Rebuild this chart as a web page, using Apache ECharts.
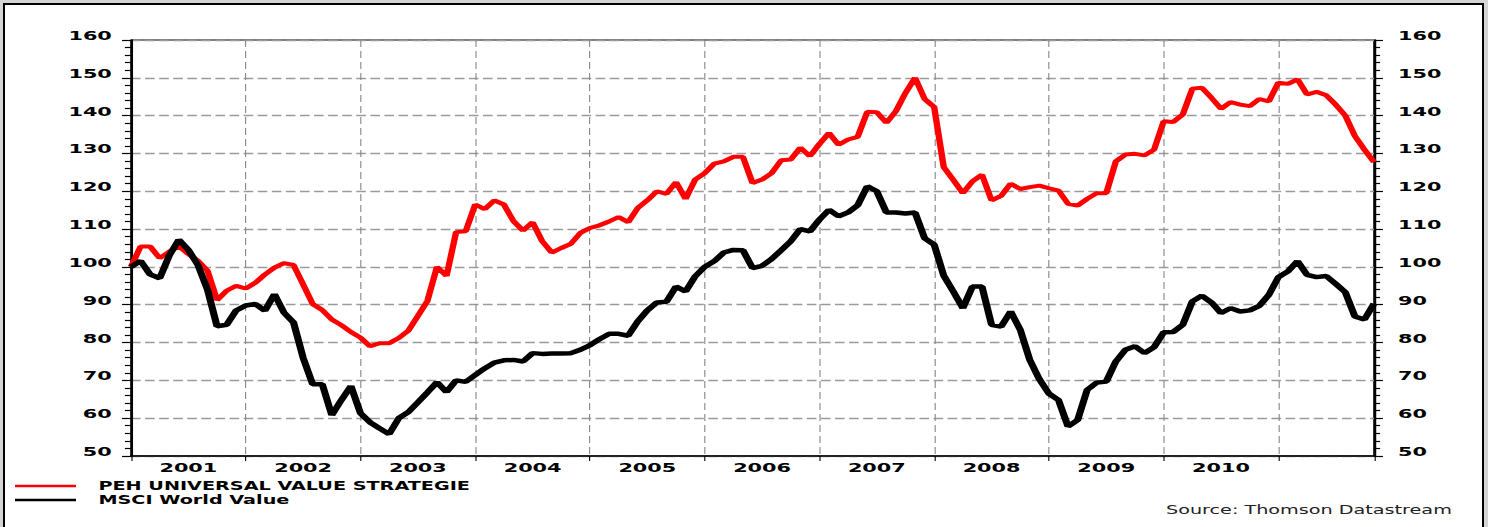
<!DOCTYPE html>
<html>
<head>
<meta charset="utf-8">
<script src="https://cdn.jsdelivr.net/npm/echarts@6/dist/echarts.min.js"></script>
<style>
  html, body { margin: 0; padding: 0; background: #d4d4d4; width: 1488px; height: 527px; overflow: hidden; }
  #frame { position: absolute; left: 3px; top: 3px; width: 1477px; height: 530px; border: 2px solid #000; border-bottom: none; background: #fff; }
  /* the original picture is stretched sideways, so the chart is drawn narrow and scaled */
  #main { position: absolute; left: 0; top: 0; width: 930px; height: 527px; transform: scaleX(1.6); transform-origin: 0 0; }
</style>
</head>
<body>
<div id="frame"></div>
<div id="main"></div>
<script>
// monthly, Jan 2001 - Nov 2011
var years = [2001, 2002, 2003, 2004, 2005, 2006, 2007, 2008, 2009, 2010, 2011];
var lastMonth2011 = 11;

var peh = [
  100.0, 105.4, 105.4, 102.3, 104.0, 105.5, 103.4, 101.6, 99.0, 91.2, 93.7, 95.0,   // 2001
  94.3, 95.8, 98.0, 99.8, 101.0, 100.5, 95.4, 90.2, 88.6, 86.1, 84.6, 82.8,         // 2002
  81.3, 79.0, 79.8, 79.8, 81.2, 83.1, 87.0, 91.0, 100.0, 97.6, 109.2, 109.4,        // 2003
  116.5, 115.3, 117.6, 116.5, 112.1, 109.6, 111.8, 106.8, 103.8, 105.0, 106.1, 109.0, // 2004
  110.3, 111.0, 112.0, 113.2, 111.8, 115.6, 117.6, 120.0, 119.3, 122.4, 118.0, 123.1, // 2005
  124.8, 127.3, 127.9, 129.1, 129.1, 122.2, 123.1, 124.8, 128.2, 128.4, 131.5, 129.3, // 2006
  132.5, 135.4, 132.3, 133.7, 134.4, 141.0, 140.9, 138.1, 141.2, 146.0, 150.0, 144.4, // 2007
  142.3, 126.4, 123.0, 119.5, 122.6, 124.4, 117.6, 118.8, 122.0, 120.6, 121.1, 121.5, // 2008
  120.8, 120.2, 116.7, 116.2, 118.0, 119.5, 119.5, 127.9, 129.7, 129.9, 129.5, 131.0, // 2009
  138.5, 138.3, 140.3, 147.1, 147.4, 144.7, 141.8, 143.6, 142.9, 142.5, 144.4, 143.8, // 2010
  148.7, 148.4, 149.6, 145.6, 146.3, 145.4, 142.9, 140.0, 134.6, 131.0, 127.7         // 2011
];

var msci = [
  100.0, 101.6, 98.0, 97.0, 103.0, 107.2, 104.5, 100.5, 94.0, 84.3, 84.7, 88.5,     // 2001
  89.8, 90.2, 88.4, 92.8, 87.9, 85.3, 76.0, 69.0, 69.0, 60.8, 64.8, 68.5,           // 2002
  61.3, 58.9, 57.3, 55.8, 60.0, 61.6, 64.2, 66.8, 69.5, 66.9, 70.0, 69.6,           // 2003
  71.4, 73.2, 74.7, 75.3, 75.4, 75.0, 77.2, 77.0, 77.1, 77.1, 77.2, 78.1,           // 2004
  79.3, 80.9, 82.3, 82.3, 81.8, 85.6, 88.5, 90.6, 90.8, 94.8, 93.5, 97.5,           // 2005
  100.0, 101.5, 103.8, 104.5, 104.4, 99.7, 100.3, 102.1, 104.4, 106.8, 110.0, 109.4, // 2006
  112.5, 115.1, 113.4, 114.4, 116.3, 121.3, 120.0, 114.4, 114.4, 114.1, 114.4, 107.6, // 2007
  105.9, 97.7, 93.5, 89.1, 94.8, 94.8, 84.7, 84.2, 88.2, 83.4, 75.4, 70.3,          // 2008
  66.5, 64.8, 57.8, 59.5, 67.5, 69.4, 69.7, 75.0, 78.1, 79.0, 77.2, 78.8,           // 2009
  82.7, 82.8, 84.7, 90.9, 92.4, 90.6, 87.8, 89.1, 88.2, 88.5, 89.7, 92.6,           // 2010
  97.3, 98.8, 101.5, 97.9, 97.3, 97.6, 95.5, 93.3, 86.9, 86.1, 90.3                 // 2011
];

var seriesNames = ['PEH UNIVERSAL VALUE STRATEGIE', 'MSCI World Value'];
var yTicks = { min: 50, max: 160, step: 10 };

// month categories
var months = [];
for (var y = 0; y < years.length; y++) {
  var n = years[y] === 2011 ? lastMonth2011 : 12;
  for (var m = 1; m <= n; m++) {
    months.push(years[y] + '-' + (m < 10 ? '0' + m : m));
  }
}

var S = 1.6; // horizontal stretch
var labelFont = { fontFamily: 'DejaVu Sans', fontWeight: 'bold', fontSize: 13, color: '#000' };

function yAxisOpt(pos) {
  return {
    type: 'value',
    position: pos,
    min: yTicks.min,
    max: yTicks.max,
    interval: yTicks.step,
    axisLine: { show: true, lineStyle: { color: '#000', width: 1.3 } },
    axisTick: { show: true, length: 5.6, lineStyle: { color: '#000', width: 1.2 } },
    minorTick: { show: true, splitNumber: 5, length: 3.8, lineStyle: { color: '#000', width: 1.2 } },
    axisLabel: Object.assign({ margin: pos === 'left' ? 12 : 15, verticalAlign: 'bottom', lineHeight: 9 }, labelFont),
    splitLine: {
      show: pos === 'left',
      lineStyle: { color: '#9a9a9a', type: [6, 2.8], width: 1.3 }
    }
  };
}

var chart = echarts.init(document.getElementById('main'), null, { renderer: 'svg' });

var option = {
  animation: false,
  grid: {
    left: 131 / S,
    right: (1488 - 1374) / S,
    top: 40,
    bottom: 71,
    show: true,
    borderColor: '#000',
    borderWidth: 1
  },
  legend: {
    orient: 'vertical',
    left: 15 / S - 5,
    top: 475,
    icon: 'rect',
    itemWidth: 61 / S,
    itemHeight: 2.5,
    itemGap: 2,
    selectedMode: false,
    textStyle: { fontFamily: 'DejaVu Sans', fontWeight: 'bold', fontSize: 12, color: '#000', lineHeight: 11, padding: [0, 0, 0, 9] },
    data: seriesNames
  },
  xAxis: {
    type: 'category',
    data: months,
    boundaryGap: false,
    axisLine: { lineStyle: { color: '#000', width: 1.5 } },
    axisTick: {
      interval: function (i) { return i % 12 === 0 || i === months.length - 1; },
      length: 5,
      lineStyle: { color: '#000', width: 0.7 }
    },
    axisLabel: Object.assign({
      interval: function (i) { return i % 12 === 6 && i < 120; },
      formatter: function (v) { return v.slice(0, 4); },
      margin: 5
    }, labelFont),
    splitLine: {
      show: true,
      interval: function (i) { return i % 12 === 0 && i > 0; },
      lineStyle: { color: '#888', type: [7, 4], width: 0.7 }
    }
  },
  yAxis: [yAxisOpt('left'), yAxisOpt('right')],
  graphic: [{
    type: 'text',
    right: (1488 - 1452) / S,
    top: 504,
    style: { text: 'Source: Thomson Datastream', font: '12px DejaVu Sans', fill: '#222' }
  }],
  series: [
    {
      name: seriesNames[0],
      type: 'line',
      data: peh,
      symbol: 'none',
      lineStyle: { color: '#ff0000', width: 4 },
      itemStyle: { color: '#ff0000' }
    },
    {
      name: seriesNames[1],
      type: 'line',
      data: msci,
      symbol: 'none',
      lineStyle: { color: '#000', width: 4.5 },
      itemStyle: { color: '#000' }
    }
  ]
};

chart.setOption(option);
</script>
</body>
</html>
